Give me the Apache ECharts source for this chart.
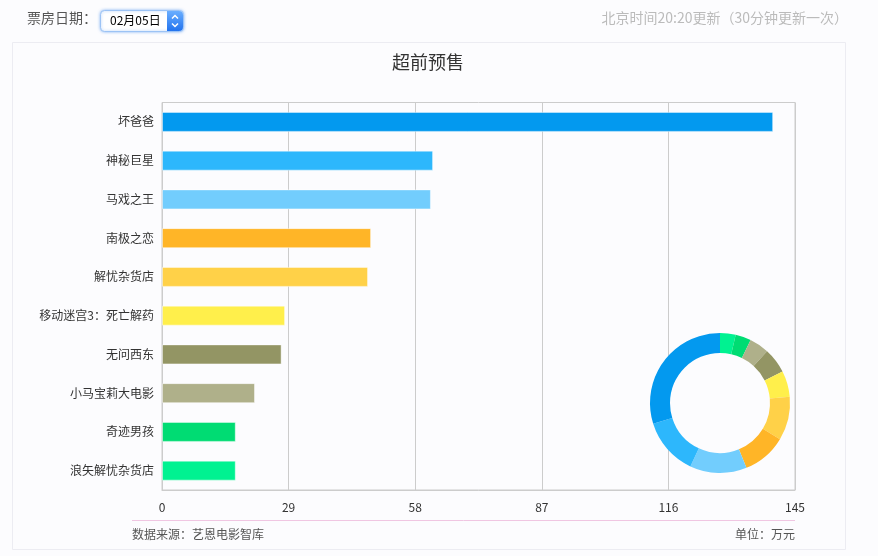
<!DOCTYPE html>
<html>
<head>
<meta charset="utf-8">
<script src="https://cdn.jsdelivr.net/npm/echarts@6/dist/echarts.min.js"></script>
<style>
html,body{margin:0;padding:0;background:#fcfcfe;}
#c{width:878px;height:556px;}
</style>
</head>
<body>
<div id="c"></div>
<script>
const categories = ['坏爸爸','神秘巨星','马戏之王','南极之恋','解忧杂货店','移动迷宫3：死亡解药','无问西东','小马宝莉大电影','奇迹男孩','浪矢解忧杂货店'];
const values = [140, 62.1, 61.6, 47.9, 47.2, 28.2, 27.4, 21.3, 16.9, 16.9];
const xTicks = [0, 29, 58, 87, 116, 145];
const palette = ['#0399ef','#2db7fc','#72cdfd','#ffb527','#ffd148','#ffef4b','#939564','#afb08a','#00dc73','#00f291'];

const FONT = '"Noto Sans CJK SC", "Noto Sans", sans-serif';
const chart = echarts.init(document.getElementById('c'));

const barData = values.map((v, i) => ({
  value: v,
  itemStyle: { color: palette[i] }
}));
const pieData = categories.map((c, i) => ({
  name: c, value: values[i], itemStyle: { color: palette[i] }
})).reverse();

chart.setOption({
  animation: false,
  backgroundColor: '#fcfcfe',
  textStyle: { fontFamily: FONT },
  title: {
    text: '超前预售',
    left: 387, top: 48,
    textStyle: { fontSize: 18, fontWeight: 'normal', color: '#333', fontFamily: FONT }
  },
  grid: {
    left: 162, top: 102.5, right: 83, bottom: 66,
    show: true, borderColor: '#cccccc', borderWidth: 1, backgroundColor: 'transparent'
  },
  xAxis: {
    type: 'value', min: xTicks[0], max: xTicks[xTicks.length - 1], interval: xTicks[1] - xTicks[0],
    axisLine: { show: true, lineStyle: { color: '#cccccc' } },
    axisTick: { show: false },
    splitLine: { show: true, lineStyle: { color: '#cccccc' } },
    axisLabel: { color: '#333', fontSize: 12, margin: 11, fontFamily: FONT }
  },
  yAxis: {
    type: 'category', data: categories, inverse: true,
    axisLine: { show: true, lineStyle: { color: '#cccccc' } },
    axisTick: { show: false },
    splitLine: { show: false },
    axisLabel: { color: '#333', fontSize: 12, margin: 8, fontFamily: FONT }
  },
  series: [
    {
      type: 'bar', data: barData, barWidth: 20, silent: true,
      itemStyle: { borderColor: 'rgba(255,255,255,0.45)', borderWidth: 1 }
    },
    {
      type: 'pie', center: [720, 403], radius: [50, 70], startAngle: 90, clockwise: true,
      data: pieData, label: { show: false }, labelLine: { show: false }, silent: true,
      itemStyle: { borderWidth: 0 }
    }
  ],
  graphic: [
    { type: 'rect', shape: { x: 12.5, y: 42.5, width: 833, height: 507 }, style: { fill: 'none', stroke: '#ececf2', lineWidth: 1 }, z: -1 },
    { type: 'text', left: 27, top: 11, style: { text: '票房日期：', fontSize: 14, fill: '#555', fontFamily: FONT } },
    { type: 'rect', shape: { x: 100.5, y: 10.5, width: 83, height: 21, r: 4 }, style: { fill: '#fff', stroke: '#9cc3f5', lineWidth: 1, shadowBlur: 3, shadowColor: 'rgba(80,150,240,0.6)' } },
    { type: 'rect', shape: { x: 167, y: 11, width: 16, height: 20, r: [0, 4, 4, 0] }, style: { fill: { type: 'linear', x: 0, y: 0, x2: 0, y2: 1, colorStops: [{ offset: 0, color: '#6aaeff' }, { offset: 1, color: '#2273ee' }] } } },
    { type: 'polyline', shape: { points: [[172, 18.5], [175, 15.5], [178, 18.5]] }, style: { stroke: '#fff', lineWidth: 1.5, fill: 'none' } },
    { type: 'polyline', shape: { points: [[172, 23.5], [175, 26.5], [178, 23.5]] }, style: { stroke: '#fff', lineWidth: 1.5, fill: 'none' } },
    { type: 'text', left: 110, top: 14, style: { text: '02月05日', fontSize: 12, fill: '#000', fontFamily: FONT } },
    { type: 'text', right: 30, top: 11, style: { text: '北京时间20:20更新（30分钟更新一次）', fontSize: 14, fill: '#bbbbbb', fontFamily: FONT } },
    { type: 'line', shape: { x1: 132, y1: 520.5, x2: 795, y2: 520.5 }, style: { stroke: '#f0c6e2', lineWidth: 1 } },
    { type: 'text', left: 132, top: 528, style: { text: '数据来源：艺恩电影智库', fontSize: 12, fill: '#555', fontFamily: FONT } },
    { type: 'text', right: 83, top: 528, style: { text: '单位：万元', fontSize: 12, fill: '#555', fontFamily: FONT } }
  ]
});
</script>
</body>
</html>
